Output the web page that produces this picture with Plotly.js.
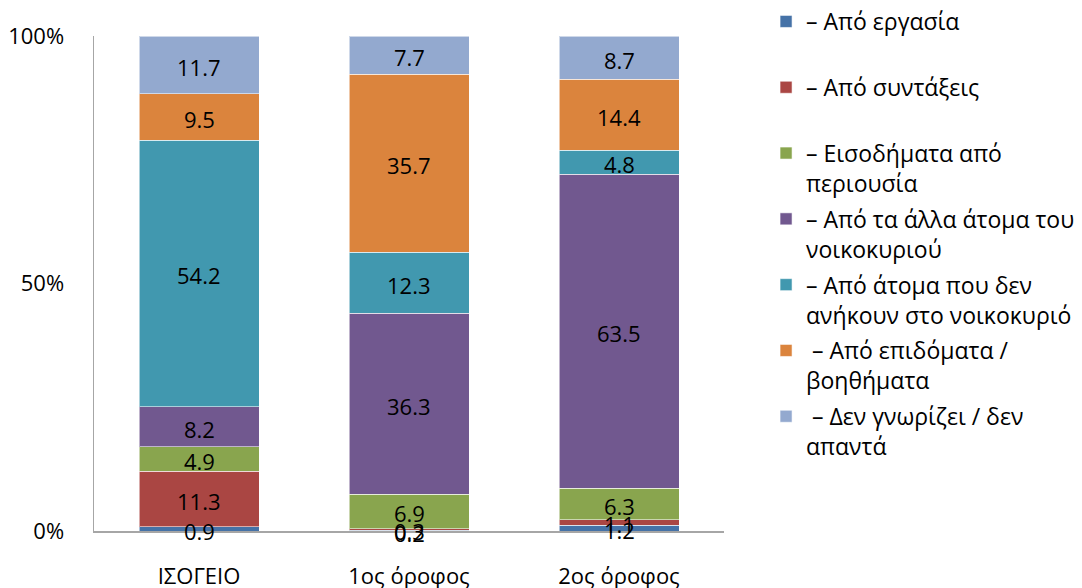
<!DOCTYPE html>
<html>
<head>
<meta charset="utf-8">
<script src="https://cdn.plot.ly/plotly-3.0.1.min.js"></script>
<style>
  html, body { margin: 0; padding: 0; background: #fff; }
  #chart { width: 1082px; height: 588px; }
</style>
</head>
<body>
<div id="chart"></div>
<script>
// Floors of the building
const floors = ['ΙΣΟΓΕΙΟ', '1ος όροφος', '2ος όροφος'];

// Income sources (share, %) per floor
const fromWork        = [0.9, 0.2, 1.2];
const fromPensions    = [11.3, 0.3, 1.1];
const fromProperty    = [4.9, 6.9, 6.3];
const fromHousehold   = [8.2, 36.3, 63.5];
const fromOutsiders   = [54.2, 12.3, 4.8];
const fromBenefits    = [9.5, 35.7, 14.4];
const noAnswer        = [11.7, 7.7, 8.7];

const seriesNames = [
  '– Από εργασία<br> ',
  '– Από συντάξεις<br> ',
  '– Εισοδήματα από<br>περιουσία',
  '– Από τα άλλα άτομα του<br>νοικοκυριού',
  '– Από άτομα που δεν<br>ανήκουν στο νοικοκυριό',
  '\u00a0– Από επιδόματα /<br>βοηθήματα',
  '\u00a0– Δεν γνωρίζει / δεν<br>απαντά'
];
const seriesValues = [fromWork, fromPensions, fromProperty, fromHousehold, fromOutsiders, fromBenefits, noAnswer];
const seriesColors = ['#4572A7', '#AA4643', '#89A54E', '#71588F', '#4198AF', '#DB843D', '#93A9CF'];

const FONT = '"Open Sans", "Noto Sans", sans-serif';
const FS = 22;

// Stacked segments, normalised to 100% per floor by the bar layout
const traces = seriesValues.map((vals, i) => ({
  type: 'bar',
  name: seriesNames[i],
  x: floors,
  y: vals,
  marker: { color: seriesColors[i], line: { color: 'rgba(255,255,255,0.55)', width: 1 } },
  legendgroup: 'g' + i,
  hoverinfo: 'skip'
}));

// Value labels drawn above all segments, centred in each one
const totals = floors.map((_, j) => seriesValues.reduce((s, vals) => s + vals[j], 0));
const annotations = [];
floors.forEach((f, j) => {
  let base = 0;
  seriesValues.forEach(vals => {
    const share = vals[j] / totals[j] * 100;
    annotations.push({
      x: f,
      y: base + share / 2,
      xref: 'x', yref: 'y',
      text: vals[j].toFixed(1),
      showarrow: false,
      yshift: -2,
      font: { family: FONT, size: FS, color: '#000' }
    });
    base += share;
  });
});

const layout = {
  width: 1082,
  height: 588,
  margin: { l: 94, r: 358, t: 36, b: 57 },
  paper_bgcolor: '#fff',
  plot_bgcolor: '#fff',
  barmode: 'stack',
  barnorm: 'percent',
  bargap: 0.4286,
  font: { family: FONT, size: FS, color: '#000' },
  annotations: annotations,
  showlegend: true,
  legend: {
    xref: 'container', yref: 'container',
    x: 0.708, y: 1.003,
    xanchor: 'left', yanchor: 'top',
    traceorder: 'grouped',
    valign: 'top',
    tracegroupgap: 3,
    maxheight: 1,
    font: { family: FONT, size: FS + 1, color: '#000' },
    bgcolor: 'rgba(0,0,0,0)'
  },
  xaxis: {
    type: 'category',
    showline: true,
    linecolor: '#a6a6a6',
    linewidth: 1.5,
    ticks: '',
    showgrid: false,
    zeroline: false,
    ticklabelstandoff: 25,
    tickfont: { family: FONT, size: FS, color: '#000' }
  },
  yaxis: {
    range: [0, 100],
    tickvals: [0, 50, 100],
    ticktext: ['0%', '50%', '100%'],
    showline: true,
    linecolor: '#a6a6a6',
    linewidth: 1.5,
    ticks: '',
    showgrid: false,
    zeroline: false,
    ticklabelstandoff: 24,
    tickfont: { family: FONT, size: FS, color: '#000' }
  }
};

Plotly.newPlot('chart', traces, layout, { displayModeBar: false, staticPlot: true });
</script>
</body>
</html>
